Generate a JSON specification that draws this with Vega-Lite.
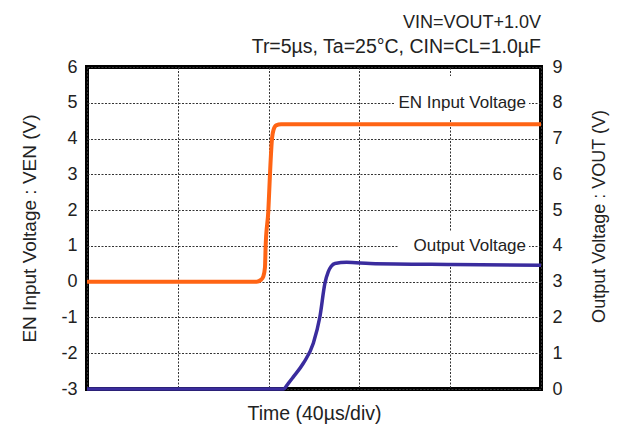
{
  "$schema": "https://vega.github.io/schema/vega-lite/v6.json",
  "width": 454,
  "height": 322,
  "autosize": {"type": "none"},
  "padding": {"left": 87, "top": 67, "right": 81, "bottom": 36},
  "background": "white",
  "title": {
    "text": "VIN=VOUT+1.0V",
    "subtitle": "Tr=5µs, Ta=25°C, CIN=CL=1.0µF",
    "anchor": "end",
    "frame": "group",
    "font": "Liberation Sans",
    "subtitleFont": "Liberation Sans",
    "fontSize": 18,
    "subtitleFontSize": 19.5,
    "fontWeight": "normal",
    "color": "#222",
    "subtitleColor": "#222",
    "offset": 2,
    "subtitlePadding": 6
  },
  "datasets": {
    "boxes": [
      {"label": "EN Input Voltage", "t0": 135.5, "t1": 194.7, "y0": 4.55, "y1": 5.75},
      {"label": "Output Voltage", "t0": 137.0, "t1": 194.7, "y0": 0.5, "y1": 1.4}
    ],
    "labels": [
      {"label": "EN Input Voltage", "t": 193.4, "y": 5},
      {"label": "Output Voltage", "t": 193.4, "y": 1}
    ],
    "en": [
      {"t": 0, "v": 0},
      {"t": 74.7, "v": 0},
      {"t": 76.6, "v": 0.05},
      {"t": 77.7, "v": 0.15},
      {"t": 78.4, "v": 0.4},
      {"t": 78.7, "v": 1.0},
      {"t": 79.9, "v": 2.0},
      {"t": 80.6, "v": 3.0},
      {"t": 81.5, "v": 4.0},
      {"t": 82.2, "v": 4.25},
      {"t": 83.3, "v": 4.37},
      {"t": 85.5, "v": 4.4},
      {"t": 200, "v": 4.4}
    ],
    "vout": [
      {"t": 0, "v": 0},
      {"t": 86.5, "v": 0},
      {"t": 88.7, "v": 0.16},
      {"t": 90.9, "v": 0.34},
      {"t": 95.3, "v": 0.72},
      {"t": 99.7, "v": 1.28},
      {"t": 102.6, "v": 2.02},
      {"t": 104.8, "v": 2.95},
      {"t": 106.3, "v": 3.28},
      {"t": 107.6, "v": 3.43},
      {"t": 109.2, "v": 3.51},
      {"t": 114.4, "v": 3.54},
      {"t": 124.7, "v": 3.51},
      {"t": 160.8, "v": 3.48},
      {"t": 200, "v": 3.46}
    ]
  },
  "layer": [
    {
      "data": {"name": "boxes"},
      "mark": {"type": "rect", "fill": "white", "stroke": null},
      "encoding": {
        "x": {
          "field": "t0", "type": "quantitative",
          "scale": {"domain": [0, 200], "nice": false, "zero": false},
          "axis": {"values": [0, 40, 80, 120, 160, 200], "labels": false, "grid": true, "title": "Time (40µs/div)", "titlePadding": 15, "titleFontSize": 19.5}
        },
        "x2": {"field": "t1"},
        "y": {
          "field": "y0", "type": "quantitative",
          "scale": {"domain": [-3, 6], "nice": false, "zero": false},
          "axis": {"orient": "left", "values": [-3, -2, -1, 0, 1, 2, 3, 4, 5, 6], "labelExpr": "datum.value + ''", "grid": true, "labelPadding": 10, "title": "EN Input Voltage : VEN (V)", "titlePadding": 21, "titleFontSize": 19}
        },
        "y2": {"field": "y1"}
      }
    },
    {
      "data": {"name": "en"},
      "mark": {"type": "line", "color": "#FF6414", "strokeWidth": 4, "interpolate": "monotone", "strokeJoin": "round", "strokeCap": "butt"},
      "encoding": {
        "x": {"field": "t", "type": "quantitative", "scale": {"domain": [0, 200], "nice": false, "zero": false},
          "axis": {"values": [0, 40, 80, 120, 160, 200], "labels": false, "grid": true, "title": "Time (40µs/div)", "titlePadding": 15, "titleFontSize": 19.5}},
        "y": {"field": "v", "type": "quantitative", "scale": {"domain": [-3, 6], "nice": false, "zero": false}, "axis": null}
      }
    },
    {
      "data": {"name": "vout"},
      "mark": {"type": "line", "color": "#3A2C9E", "strokeWidth": 3.5, "interpolate": "monotone", "strokeJoin": "round", "strokeCap": "butt"},
      "encoding": {
        "x": {"field": "t", "type": "quantitative", "scale": {"domain": [0, 200], "nice": false, "zero": false},
          "axis": {"values": [0, 40, 80, 120, 160, 200], "labels": false, "grid": true, "title": "Time (40µs/div)", "titlePadding": 15, "titleFontSize": 19.5}},
        "y": {
          "field": "v", "type": "quantitative",
          "scale": {"domain": [0, 9], "nice": false, "zero": false},
          "axis": {"orient": "right", "values": [0, 1, 2, 3, 4, 5, 6, 7, 8, 9], "grid": false, "labelPadding": 11, "title": "Output Voltage : VOUT (V)", "titleAngle": 270, "titlePadding": 46, "titleY": 149}
        }
      }
    },
    {
      "data": {"name": "labels"},
      "mark": {"type": "text", "align": "right", "baseline": "middle", "font": "Liberation Sans", "fontSize": 17, "color": "#222"},
      "encoding": {
        "x": {"field": "t", "type": "quantitative", "scale": {"domain": [0, 200], "nice": false, "zero": false},
          "axis": {"values": [0, 40, 80, 120, 160, 200], "labels": false, "grid": true, "title": "Time (40µs/div)", "titlePadding": 15, "titleFontSize": 19.5}},
        "y": {"field": "y", "type": "quantitative", "scale": {"domain": [-3, 6], "nice": false, "zero": false}, "axis": null},
        "text": {"field": "label"}
      }
    }
  ],
  "resolve": {"scale": {"y": "independent"}},
  "config": {
    "view": {"stroke": "black", "strokeWidth": 4},
    "axis": {
      "labelFont": "Liberation Sans",
      "titleFont": "Liberation Sans",
      "labelFontSize": 18,
      "titleFontSize": 18,
      "titleFontWeight": "normal",
      "labelColor": "#222",
      "titleColor": "#222",
      "ticks": false,
      "tickSize": 0,
      "domain": false,
      "gridColor": "#333",
      "gridDash": [2, 1.5],
      "gridWidth": 1,
      "gridOpacity": 1,
      "zindex": 0
    }
  }
}
